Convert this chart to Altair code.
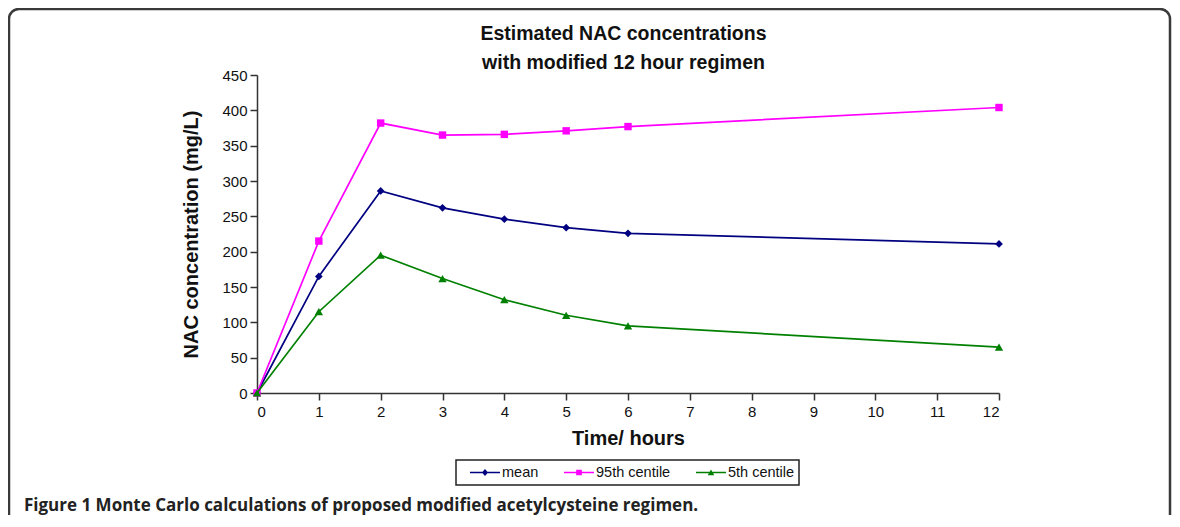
import altair as alt
import pandas as pd

# ---- data ----
hours = [0, 1, 2, 3, 4, 5, 6, 12]
mean_vals = [0, 165, 286, 262, 246, 234, 226, 211]
p95_vals = [0, 215, 382, 365, 366, 371, 377, 404]
p5_vals = [0, 115, 195, 162, 132, 110, 95, 65]
series_names = ["mean", "95th centile", "5th centile"]
x_ticks = list(range(0, 13))
y_ticks = list(range(0, 451, 50))
title_line1 = "Estimated NAC concentrations"
title_line2 = "with modified 12 hour regimen"
caption = "Figure 1 Monte Carlo calculations of proposed modified acetylcysteine regimen."

# ---- styles ----
colors = ["#000080", "#FF00FF", "#008000"]
marker_shapes = ["diamond", "square", "triangle-up"]
marker_sizes = [60, 55, 70]
# legend glyphs: a line segment (30px) with the series marker in its middle
legend_paths = [
    "M-2.53,-0.09H1V0.09H-2.53Z M-1.12,0L-0.765,-0.4L-0.41,0L-0.765,0.4Z",
    "M-2.53,-0.09H1V0.09H-2.53Z M-1.1,-0.33H-0.43V0.33H-1.1Z",
    "M-2.53,-0.09H1V0.09H-2.53Z M-1.15,0.32L-0.765,-0.36L-0.38,0.32Z",
]

rows = []
for name, vals in zip(series_names, [mean_vals, p95_vals, p5_vals]):
    for h, v in zip(hours, vals):
        rows.append({"hours": h, "value": v, "series": name})
df = pd.DataFrame(rows)

FONT = "Liberation Sans"
W, H = 742, 318
PAD_L, PAD_T = 249, 67
CANVAS_W, CANVAS_H = 1164, 507
PAD_R = CANVAS_W - W - PAD_L
PAD_B = CANVAS_H - H - PAD_T
OX, OY = 8 + PAD_L, 8 + PAD_T  # page position of the plot origin

x_enc = alt.X(
    "hours:Q",
    scale=alt.Scale(domain=[0, 12], nice=False, zero=False),
    axis=alt.Axis(values=x_ticks, title="Time/ hours", format="d", titlePadding=9,
                  labelPadding=4),
)
y_enc = alt.Y(
    "value:Q",
    scale=alt.Scale(domain=[0, 450], nice=False),
    axis=alt.Axis(values=y_ticks, title="NAC concentration (mg/L)", format="d",
                  titlePadding=20, labelPadding=3),
)

base = alt.Chart(df)
one = pd.DataFrame({"k": [0]})

layers = []

# outer rounded frame (decoration)
layers.append(
    alt.Chart(one).mark_rect(
        fill="transparent", stroke="#3a3a3a", strokeWidth=2.5, cornerRadius=10
    ).encode(
        x=alt.value(9 - OX), x2=alt.value(1170 - OX), y=alt.value(9 - OY), y2=alt.value(560 - OY)
    )
)

for name, c, s, sz in zip(series_names, colors, marker_shapes, marker_sizes):
    layers.append(
        base.transform_filter(alt.datum.series == name)
        .mark_line(
            color=c, strokeWidth=1.7,
            point=alt.OverlayMarkDef(shape=s, filled=True, size=sz, color=c, opacity=1),
        )
        .encode(x=x_enc, y=y_enc)
    )

# legend box (decoration)
layers.append(
    alt.Chart(one).mark_rect(fill="white", stroke="#222222", strokeWidth=1.5).encode(
        x=alt.value(456 - OX), x2=alt.value(799 - OX), y=alt.value(460 - OY), y2=alt.value(485 - OY)
    )
)

leg = alt.Legend(
    title=None, orient="none", legendX=483 - 4 - OX, legendY=460 - OY, direction="horizontal",
    padding=4, symbolSize=289,
    labelFont=FONT, labelFontSize=14.5, labelColor="#111111", columnPadding=24,
    labelOffset=2, symbolOpacity=1, symbolStrokeWidth=0,
)
layers.append(
    base.mark_point(opacity=0, filled=True).encode(
        x=x_enc, y=y_enc,
        color=alt.Color("series:N", scale=alt.Scale(domain=series_names, range=colors), legend=leg),
        shape=alt.Shape("series:N", scale=alt.Scale(domain=series_names, range=legend_paths), legend=leg),
    )
)

# two-line chart title
for txt, base_y in [(title_line1, 40), (title_line2, 69)]:
    layers.append(
        alt.Chart(one).mark_text(
            align="center", baseline="alphabetic", fontSize=19.5, fontWeight="bold",
            font=FONT, color="#111111",
        ).encode(x=alt.value(623.5 - OX), y=alt.value(base_y - OY), text=alt.value(txt))
    )

layers.append(
    alt.Chart(one).mark_text(
        align="left", baseline="alphabetic", fontSize=17, fontWeight="bold",
        font="Open Sans", color="#222222",
    ).encode(x=alt.value(24 - OX), y=alt.value(511 - OY), text=alt.value(caption))
)

chart = (
    alt.layer(*layers)
    .properties(
        width=W, height=H,
        autosize=alt.AutoSizeParams(type="none"),
        padding={"left": PAD_L, "top": PAD_T, "right": PAD_R, "bottom": PAD_B},
    )
    .configure_view(strokeWidth=0)
    .configure_axis(
        grid=False, domainColor="#333333", tickColor="#333333", labelColor="#111111",
        labelFont=FONT, labelFontSize=15, titleFont=FONT, titleFontSize=20,
        titleFontWeight="bold", titleColor="#111111", tickSize=7, domainWidth=1.5,
        tickWidth=1.5,
    )
)

chart.save("out.html", embed_options={"renderer": "svg", "actions": False})
